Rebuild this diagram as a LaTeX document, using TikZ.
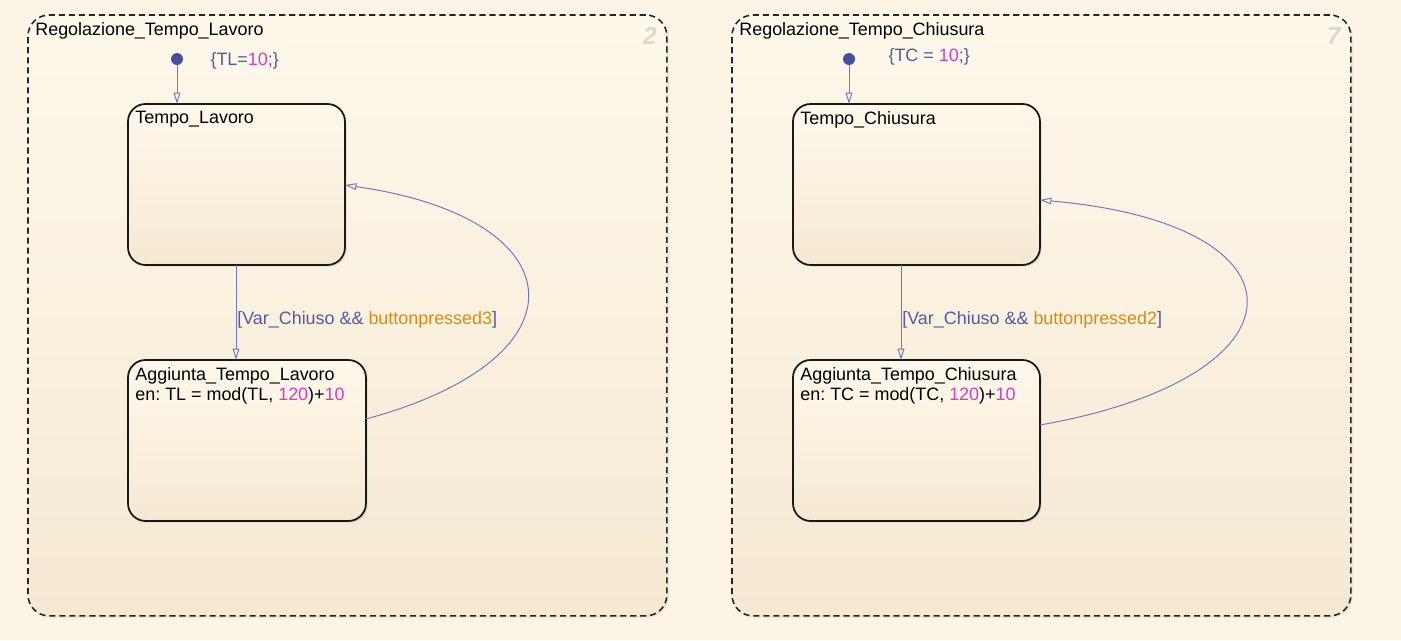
\documentclass[tikz,border=0pt]{standalone}
\usepackage{fontspec}
\setmainfont{Liberation Sans}
\usetikzlibrary{arrows.meta,calc,shadows,positioning}
\definecolor{bgcol}{RGB}{252,244,228}
\definecolor{fillup}{RGB}{254,248,235}
\definecolor{filldown}{RGB}{245,233,210}
\definecolor{transcol}{RGB}{112,118,192}
\definecolor{lblblue}{RGB}{85,90,165}
\definecolor{lblorange}{RGB}{215,140,15}
\definecolor{lblmag}{RGB}{215,60,200}
\definecolor{dotcol}{RGB}{70,78,160}
\definecolor{numcol}{RGB}{222,216,202}
\newcommand{\txtsize}{\fontsize{10.2}{11.5}\selectfont\frenchspacing}

\begin{document}
\begin{tikzpicture}[x=0.02cm,y=-0.02cm,
  chart/.style={draw=black!85,line width=0.9pt,dash pattern=on 3.5pt off 2.2pt,
    rounded corners=12pt,top color=fillup,bottom color=filldown,
    drop shadow={opacity=0.15,shadow xshift=1pt,shadow yshift=-1pt},
    anchor=north west,inner sep=0pt,outer sep=0pt,minimum height=12.02cm},
  state/.style={draw=black!90,line width=1pt,rounded corners=10pt,
    top color=fillup,bottom color=filldown,
    drop shadow={opacity=0.2,shadow xshift=1pt,shadow yshift=-1pt},
    anchor=north west,inner sep=0pt,outer sep=0pt,minimum height=3.22cm},
  lbl/.style={anchor=north west,inner sep=4pt,font=\txtsize,align=left},
  num/.style={anchor=north east,inner sep=0pt,text=numcol,
    font=\fontsize{14}{14}\selectfont\bfseries\itshape},
  idot/.style={circle,fill=dotcol,inner sep=0pt,minimum size=0.24cm},
  trans/.style={draw=transcol,line width=0.55pt,-{Triangle[open,length=6.5pt,width=3.8pt]}},
  guard/.style={right,inner sep=0.5pt,font=\txtsize,text=lblblue}]

  \fill[bgcol] (0,0) rectangle (1401,640);
  \useasboundingbox (0,0) rectangle (1401,640);

% first chart
  \node[chart,minimum width=12.78cm] (ctl) at (28,15) {};
  \node[lbl] (rtl) at (ctl.north west) {Regolazione\_Tempo\_Lavoro};
  \node[num,xshift=-5.5pt,yshift=-7pt] (ntl) at (ctl.north east) {2};

  \node[state,minimum width=4.34cm] (tl) at (128,104) {};
  \node[lbl] (ttl) at (tl.north west) {Tempo\_Lavoro};
  \node[state,minimum width=4.76cm] (al) at (128,360) {};
  \node[lbl] (tal) at (al.north west) {Aggiunta\_Tempo\_Lavoro\\
    en: TL = mod(TL, \textcolor{lblmag}{120})+\textcolor{lblmag}{10}};

  \node[idot] (idl) at (177,59) {};
  \node[right=0.42cm of idl,font=\txtsize,text=lblblue,yshift=-1pt] (vtl) {\{TL=\textcolor{lblmag}{10};\}};
  \draw[trans] (idl) -- (idl |- tl.north);

  \coordinate (stl) at ($(tl.south west)+(108,0)$);
  \draw[trans] (stl) -- node[guard,pos=0.58]
    {[Var\_Chiuso \&\& \textcolor{lblorange}{buttonpressed3}]} (stl |- al.north);
  \draw[trans] ($(al.north east)+(0,59)$) .. controls +(226,-61) and +(232,33) .. ($(tl.north east)+(0,81)$);

% second chart
  \node[chart,minimum width=12.38cm] (ctc) at (732,15) {};
  \node[lbl] (rtc) at (ctc.north west) {Regolazione\_Tempo\_Chiusura};
  \node[num,xshift=-5.5pt,yshift=-7pt] (ntc) at (ctc.north east) {7};

  \node[state,minimum width=4.94cm] (tc) at (793,104) {};
  \node[lbl] (ttc) at (tc.north west) {Tempo\_Chiusura};
  \node[state,minimum width=4.94cm] (ac) at (793,360) {};
  \node[lbl] (tac) at (ac.north west) {Aggiunta\_Tempo\_Chiusura\\
    en: TC = mod(TC, \textcolor{lblmag}{120})+\textcolor{lblmag}{10}};

  \node[idot] (idc) at (849,59) {};
  \node[right=0.54cm of idc,font=\txtsize,text=lblblue,yshift=1pt] (vtc) {\{TC = \textcolor{lblmag}{10};\}};
  \draw[trans] (idc) -- (idc |- tc.north);

  \coordinate (stc) at ($(tc.south west)+(108,0)$);
  \draw[trans] (stc) -- node[guard,pos=0.58]
    {[Var\_Chiuso \&\& \textcolor{lblorange}{buttonpressed2}]} (stc |- ac.north);
  \draw[trans] ($(ac.north east)+(0,65)$) .. controls +(273,-48) and +(276,24) .. ($(tc.north east)+(0,96)$);
\end{tikzpicture}
\end{document}
